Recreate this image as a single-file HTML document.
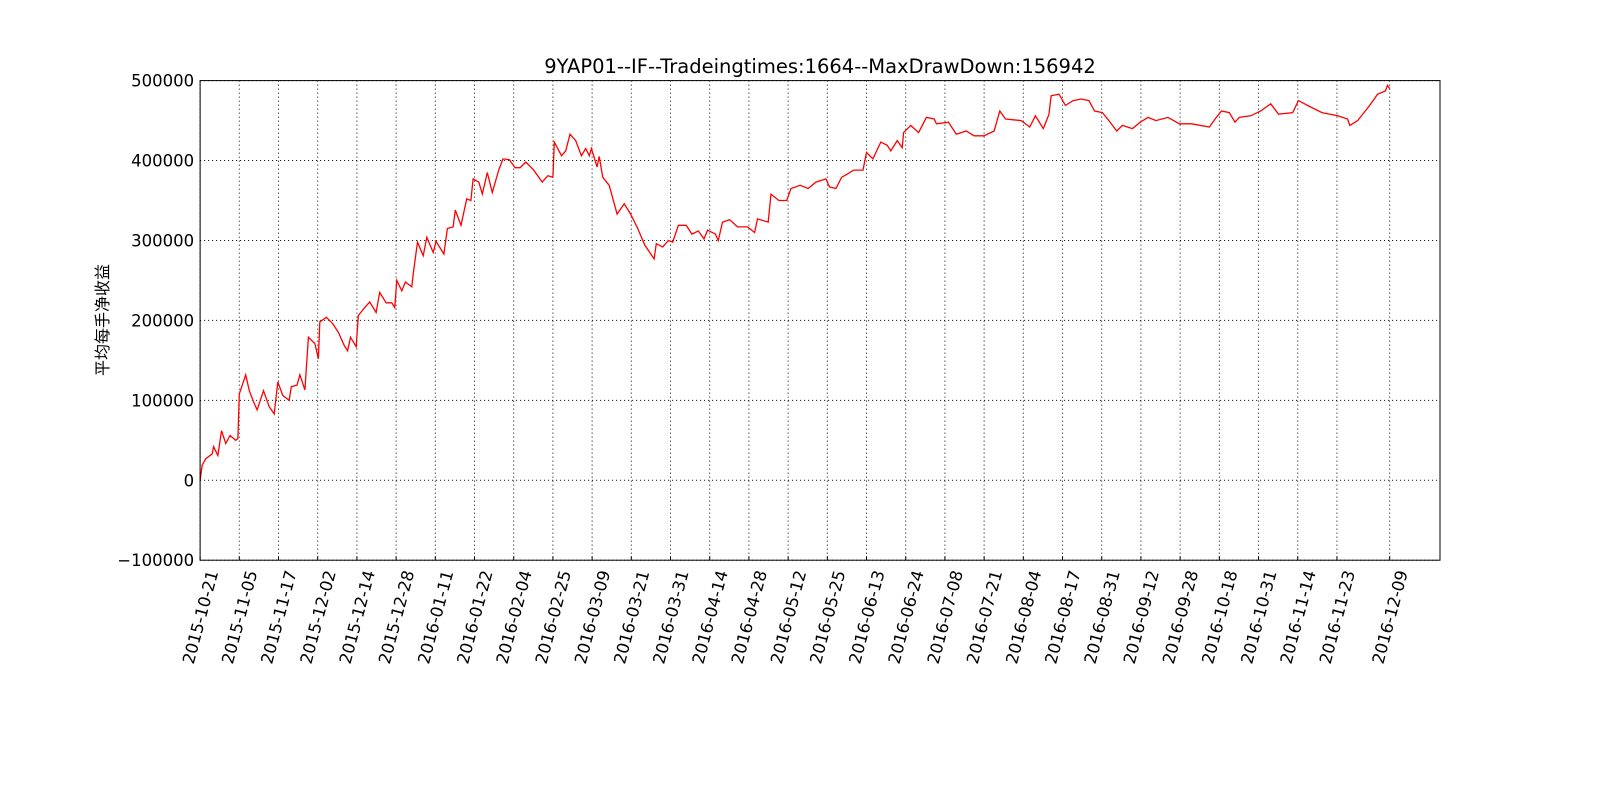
<!DOCTYPE html>
<html><head><meta charset="utf-8"><style>
body{margin:0;background:#fff;}
svg{display:block;font-family:"DejaVu Sans","Liberation Sans","Noto Sans CJK SC",sans-serif;}
</style></head><body>
<svg id="chart" width="1600" height="800">
<rect x="0" y="0" width="1600" height="800" fill="#fff"/>
<g id="grid"></g>
<g id="series"></g>
<rect x="200.1" y="80.6" width="1239.9" height="479.6" fill="none" stroke="#000" stroke-width="1"/>
<g id="yticks"></g>
<g id="xticks"></g>
<text x="820" y="73" font-size="19.5" text-anchor="middle">9YAP01--IF--Tradeingtimes:1664--MaxDrawDown:156942</text>
<text x="0" y="0" font-size="16" text-anchor="middle" transform="translate(108,320) rotate(-90)" font-family="'Noto Sans CJK SC',sans-serif">平均每手净收益</text>
</svg>
<script>
const xs = [0,3,8,17,19,25,30,36,42,50,53,55,64,69,75,80,89,97,104,109,116,125,128,136,140,147,152,161,166,168,177,186,194,202,207,211,219,222,230,238,247,252,261,269,273,276,283,288,297,299,305,313,318,327,331,342,347,355,358,366,374,380,383,391,396,403,410,419,425,434,442,449,457,468,480,488,495,497,507,513,519,527,535,541,546,549,557,560,565,574,585,595,604,613,624,637,640,649,657,663,671,682,690,699,707,712,723,727,733,743,754,768,778,782,797,801,812,823,829,
842,853,864,878,883,892,900,908,917,930,935,944,955,964,969,978,985,987,997,1008,1019,1030,1033,1050,1061,1075,1086,1100,1114,1122,1130,1152,1164,1172,1183,1191,1194,1205,1214,1225,1236,1247,1255,1266,1275,1286,1294,1308,1319,1330,1341,1358,1374,1391,1416,1424,1433,1444,1452,1458,1474,1488,1502,1513,1533,1541,1558,1574,1596,1610,1613,1624,1641,1652,1663,1666,1669];
const ys = [0,19,27,33,42,31,62,46,56,50,52,108,132,112,98,88,112,92,83,123,106,100,117,119,132,113,179,171,152,198,204,196,185,169,162,179,167,206,215,223,210,235,222,222,216,250,237,248,242,258,298,281,304,285,299,283,315,317,338,319,352,350,377,373,358,385,360,388,402,401,391,391,398,388,373,381,379,423,406,412,433,425,406,415,406,415,392,405,379,369,333,346,333,317,294,277,296,292,300,298,319,319,308,312,302,313,308,300,323,326,317,317,310,327,323,358,350,350,365,
369,365,373,377,367,365,379,383,388,388,410,402,423,419,412,425,416,435,444,435,454,452,446,448,433,437,431,431,437,462,452,450,442,456,440,458,481,483,469,475,477,475,462,460,450,437,444,440,448,454,450,454,446,446,442,452,462,460,448,454,456,462,471,458,460,475,467,460,456,452,444,450,469,483,487,494,490];
const yTicks = [-100000,0,100000,200000,300000,400000,500000];
const yTickLabels = ["\u2212100000","0","100000","200000","300000","400000","500000"];
const xTickIdx = [0,55,110,165,220,275,330,385,440,495,550,605,660,715,770,825,880,935,990,1045,1100,1155,1210,1265,1320,1375,1430,1485,1540,1595,1669];
const xTickLabels = ["2015-10-21","2015-11-05","2015-11-17","2015-12-02","2015-12-14","2015-12-28","2016-01-11","2016-01-22","2016-02-04","2016-02-25","2016-03-09","2016-03-21","2016-03-31","2016-04-14","2016-04-28","2016-05-12","2016-05-25","2016-06-13","2016-06-24","2016-07-08","2016-07-21","2016-08-04","2016-08-17","2016-08-31","2016-09-12","2016-09-28","2016-10-18","2016-10-31","2016-11-14","2016-11-23","2016-12-09"];

const L=200.1,R=1440,T=80.6,B=560.2;
const xMax=1739.6;
function sx(v){return L+(v/xMax)*(R-L);}
function sy(v){return B-(v+100000)/600000*(B-T);}
const NS="http://www.w3.org/2000/svg";
function mk(tag,parent){const e=document.createElementNS(NS,tag);parent.appendChild(e);return e;}
const grid=document.getElementById('grid'),yt=document.getElementById('yticks'),xt=document.getElementById('xticks'),ser=document.getElementById('series');
yTicks.forEach((v,i)=>{
  const y=sy(v);
  const g=mk('line',grid);
  g.setAttribute('x1',L);g.setAttribute('x2',R);g.setAttribute('y1',y);g.setAttribute('y2',y);
  g.setAttribute('stroke','#000');g.setAttribute('stroke-dasharray','1,3');g.setAttribute('stroke-width','1');
  
  
  const t=mk('text',yt);
  t.setAttribute('x',L-6);t.setAttribute('y',y+6);t.setAttribute('font-size','16.5');t.setAttribute('text-anchor','end');
  t.textContent=yTickLabels[i];
  
  
});
xTickIdx.forEach((v,i)=>{
  const x=sx(v);
  const g=mk('line',grid);
  g.setAttribute('x1',x);g.setAttribute('x2',x);g.setAttribute('y1',T);g.setAttribute('y2',B);
  g.setAttribute('stroke','#000');g.setAttribute('stroke-dasharray','1,3');g.setAttribute('stroke-width','1');
  
  
  const tk=mk('line',xt);
  tk.setAttribute('x1',x);tk.setAttribute('x2',x);tk.setAttribute('y1',B);tk.setAttribute('y2',B-4);tk.setAttribute('stroke','#000');
  
  
  const t=mk('text',xt);
  const cy=617;
  t.setAttribute('x',x);t.setAttribute('y',cy+6);t.setAttribute('font-size','16.5');t.setAttribute('text-anchor','middle');
  t.setAttribute('transform','rotate(-75 '+x+' '+cy+')');
  t.textContent=xTickLabels[i];
  
  
});
let d='';
xs.forEach((v,i)=>{d+=(i?'L':'M')+sx(v).toFixed(1)+','+sy(ys[i]*1000).toFixed(1);});
const p=mk('path',ser);
p.setAttribute('d',d);p.setAttribute('fill','none');p.setAttribute('stroke','#ff0000');p.setAttribute('stroke-width','1.3');


</script>
</body></html>
